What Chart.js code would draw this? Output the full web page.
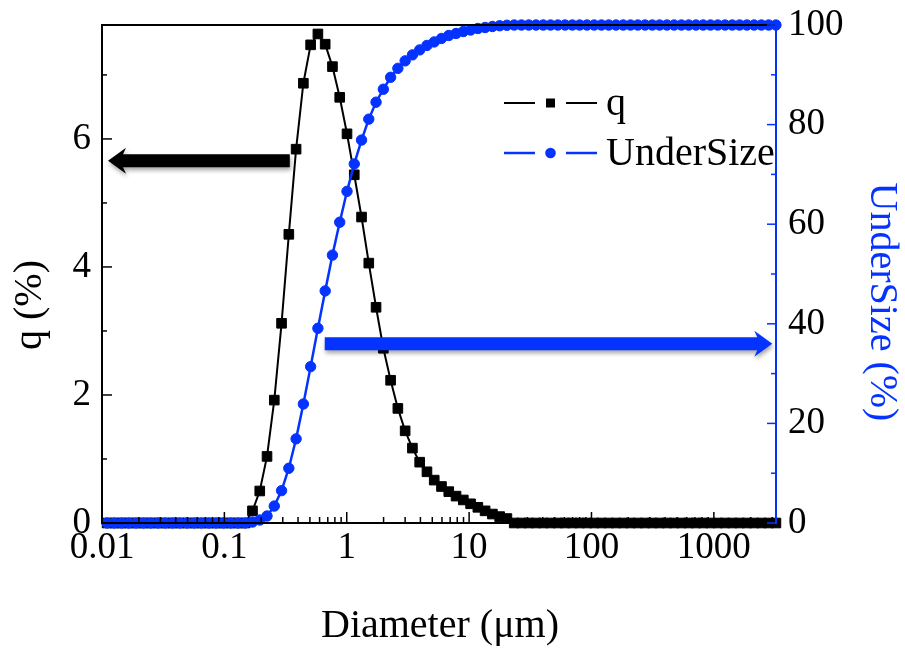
<!DOCTYPE html>
<html>
<head>
<meta charset="utf-8">
<title>q / UnderSize vs Diameter</title>
<script src="https://cdn.jsdelivr.net/npm/chart.js@4.4.1/dist/chart.umd.min.js"></script>
<style>
  html, body { margin: 0; padding: 0; background: #fff; }
  #wrap { width: 905px; height: 648px; }
</style>
</head>
<body>
<div id="wrap"><canvas id="psdChart" width="905" height="648"></canvas></div>
<script>
"use strict";

/* ================================
   DATA
   ================================ */
// particle size classes (um)
const diameters = [
  0.011, 0.01261, 0.01446, 0.01658, 0.01901, 0.0218, 0.025, 0.02866, 0.03286, 0.03768,
  0.04321, 0.04954, 0.0568, 0.06513, 0.07468, 0.08563, 0.09818, 0.1126, 0.1291, 0.148,
  0.1697, 0.1946, 0.2231, 0.2558, 0.2933, 0.3363, 0.3856, 0.4421, 0.5069, 0.5812,
  0.6665, 0.7642, 0.8762, 1.005, 1.152, 1.321, 1.514, 1.736, 1.991, 2.283,
  2.617, 3.001, 3.441, 3.945, 4.524, 5.187, 5.947, 6.819, 7.819, 8.965,
  10.28, 11.79, 13.51, 15.5, 17.77, 20.37, 23.36, 26.78, 30.71, 35.21,
  40.37, 46.29, 53.08, 60.86, 69.78, 80.01, 91.74, 105.2, 120.6, 138.3,
  158.6, 181.8, 208.5, 239.0, 274.1, 314.2, 360.3, 413.1, 473.7, 543.1,
  622.7, 714.0, 818.7, 938.7, 1076, 1234, 1415, 1622, 1860, 2133,
  2445, 2804, 3215
];

// q (%) — frequency
const qValues = [
  0, 0, 0, 0, 0, 0, 0, 0, 0, 0,
  0, 0, 0, 0, 0, 0, 0, 0, 0, 0,
  0.19, 0.50, 1.04, 1.92, 3.12, 4.51, 5.84, 6.87, 7.47, 7.64,
  7.48, 7.13, 6.65, 6.08, 5.44, 4.78, 4.06, 3.37, 2.73, 2.23,
  1.79, 1.44, 1.17, 0.95, 0.80, 0.67, 0.57, 0.49, 0.42, 0.36,
  0.30, 0.245, 0.19, 0.14, 0.10, 0.07, 0, 0, 0, 0,
  0, 0, 0, 0, 0, 0, 0, 0, 0, 0,
  0, 0, 0, 0, 0, 0, 0, 0, 0, 0,
  0, 0, 0, 0, 0, 0, 0, 0, 0, 0,
  0, 0, 0
];

// UnderSize (%) — cumulative
const underSize = [
  0, 0, 0, 0, 0, 0, 0, 0, 0, 0,
  0, 0, 0, 0, 0, 0, 0, 0, 0, 0,
  0.2, 0.6, 1.4, 3.4, 6.5, 11.0, 16.9, 23.9, 31.4, 39.1,
  46.6, 53.8, 60.4, 66.6, 72.1, 76.9, 81.1, 84.5, 87.1, 89.5,
  91.3, 92.8, 94.0, 95.0, 95.9, 96.6, 97.3, 97.9, 98.3, 98.7,
  99.0, 99.3, 99.5, 99.7, 99.85, 99.95, 100, 100, 100, 100,
  100, 100, 100, 100, 100, 100, 100, 100, 100, 100,
  100, 100, 100, 100, 100, 100, 100, 100, 100, 100,
  100, 100, 100, 100, 100, 100, 100, 100, 100, 100,
  100, 100, 100
];

const xTickValues = [0.01, 0.1, 1, 10, 100, 1000];
const xTickLabels = ["0.01", "0.1", "1", "10", "100", "1000"];
const qTickValues = [0, 2, 4, 6];
const qMinorTicks = [1, 3, 5, 7];
const usTickValues = [0, 20, 40, 60, 80, 100];
const usMinorTicks = [10, 30, 50, 70, 90];

// annotation arrows, in data units: [diameter, value]
const arrowQ = { from: [0.3425, 5.66], to: [0.0112, 5.66] };
const arrowUS = { from: [0.661, 36.0], to: [3003, 36.0] };

/* ================================
   STYLE
   ================================ */
const BLUE = "#0433ff";
const SERIF = "'Liberation Serif', 'Times New Roman', serif";
const X_MIN = 0.01;
const X_MAX = 3220;
const Q_MAX = 7.78;

/* ================================
   HELPERS
   ================================ */
function setTicks(values) {
  return scale => { scale.ticks = values.map(v => ({ value: v })); };
}

// fixed box size, no extra padding for overflowing labels
function fixWidth(w) {
  return s => { s.width = w; s.paddingTop = 0; s.paddingBottom = 0; };
}

function line(ctx, x1, y1, x2, y2) {
  ctx.beginPath();
  ctx.moveTo(x1, y1);
  ctx.lineTo(x2, y2);
  ctx.stroke();
}

function drawArrow(ctx, x1, x2, y, color) {
  const dir = Math.sign(x2 - x1);
  const half = 6.5;      // shaft half thickness
  const headHalf = 13;   // head half height
  const headLen = 15;
  const base = x2 - dir * headLen;
  ctx.save();
  ctx.shadowColor = "rgba(0,0,0,0.35)";
  ctx.shadowBlur = 4;
  ctx.shadowOffsetX = 1;
  ctx.shadowOffsetY = 3;
  ctx.fillStyle = color;
  ctx.beginPath();
  ctx.moveTo(x1, y - half);
  ctx.lineTo(base, y - half);
  ctx.lineTo(base - dir * 3, y - headHalf);
  ctx.lineTo(x2, y);
  ctx.lineTo(base - dir * 3, y + headHalf);
  ctx.lineTo(base, y + half);
  ctx.lineTo(x1, y + half);
  ctx.closePath();
  ctx.fill();
  ctx.restore();
}

/* ================================
   PLUGIN: frame, inward ticks, arrows, legend, titles
   ================================ */
const decorPlugin = {
  id: "decor",
  afterDatasetsDraw(chart) {
    const { ctx, scales } = chart;
    const x = scales.x, yQ = scales.yQ, yUS = scales.yUS;
    drawArrow(ctx, x.getPixelForValue(arrowQ.from[0]), x.getPixelForValue(arrowQ.to[0]),
      yQ.getPixelForValue(arrowQ.from[1]), "#000");
    drawArrow(ctx, x.getPixelForValue(arrowUS.from[0]), x.getPixelForValue(arrowUS.to[0]),
      yUS.getPixelForValue(arrowUS.from[1]), BLUE);
  },
  afterDraw(chart) {
    const { ctx, chartArea: a, scales } = chart;
    const x = scales.x, yQ = scales.yQ, yUS = scales.yUS;
    ctx.save();
    ctx.lineCap = "butt";

    // frame
    ctx.lineWidth = 2;
    ctx.strokeStyle = "#000";
    line(ctx, a.left, a.top, a.right, a.top);
    line(ctx, a.left, a.top - 1, a.left, a.bottom + 1);
    line(ctx, a.left - 1, a.bottom, a.right, a.bottom);
    ctx.strokeStyle = BLUE;
    line(ctx, a.right, a.top - 1, a.right, a.bottom + 1);

    // x ticks (inward)
    ctx.strokeStyle = "#000";
    ctx.lineWidth = 1.5;
    xTickValues.forEach(v => {
      const px = x.getPixelForValue(v);
      line(ctx, px, a.bottom, px, a.bottom - 11);
      for (let m = 2; m <= 9; m++) {
        const mv = v * m;
        if (mv > X_MAX) break;
        const mx = x.getPixelForValue(mv);
        line(ctx, mx, a.bottom, mx, a.bottom - 6);
      }
    });

    // left ticks
    qTickValues.forEach(v => {
      const py = yQ.getPixelForValue(v);
      line(ctx, a.left, py, a.left + 10, py);
    });
    qMinorTicks.forEach(v => {
      const py = yQ.getPixelForValue(v);
      line(ctx, a.left, py, a.left + 5, py);
    });

    // right ticks
    ctx.strokeStyle = BLUE;
    usTickValues.forEach(v => {
      const py = yUS.getPixelForValue(v);
      line(ctx, a.right, py, a.right - 9, py);
    });
    usMinorTicks.forEach(v => {
      const py = yUS.getPixelForValue(v);
      line(ctx, a.right, py, a.right - 5, py);
    });

    // legend
    const rows = [
      { label: "q", color: "#000", style: "rect", y: 103 },
      { label: "UnderSize", color: BLUE, style: "circle", y: 153 }
    ];
    ctx.font = "40px " + SERIF;
    ctx.textAlign = "left";
    ctx.textBaseline = "alphabetic";
    rows.forEach(r => {
      ctx.strokeStyle = r.color;
      ctx.fillStyle = r.color;
      ctx.lineWidth = r.style === "rect" ? 2 : 2.5;
      line(ctx, 504, r.y, 535, r.y);
      line(ctx, 566, r.y, 597, r.y);
      if (r.style === "rect") {
        ctx.fillRect(546, r.y - 4.5, 9, 9);
      } else {
        ctx.beginPath();
        ctx.arc(550.5, r.y, 5.3, 0, Math.PI * 2);
        ctx.fill();
      }
      ctx.fillStyle = "#000";
      ctx.fillText(r.label, 606, r.y + 12);
    });

    // axis titles
    ctx.textAlign = "center";
    ctx.textBaseline = "middle";
    ctx.fillStyle = "#000";
    ctx.fillText("Diameter (\u03bcm)", 440, 626);

    ctx.save();
    ctx.translate(30, 305);
    ctx.rotate(-Math.PI / 2);
    ctx.fillText("q (%)", 0, 0);
    ctx.restore();

    ctx.save();
    ctx.translate(881, 302);
    ctx.rotate(Math.PI / 2);
    ctx.fillStyle = BLUE;
    ctx.fillText("UnderSize (%)", 0, 0);
    ctx.restore();

    ctx.restore();
  }
};

/* ================================
   CHART
   ================================ */
function initChart() {
  const tickFont = { family: SERIF, size: 37 };

  new Chart(document.getElementById("psdChart").getContext("2d"), {
    type: "line",
    data: {
      datasets: [
        {
          label: "q",
          data: diameters.map((d, i) => ({ x: d, y: qValues[i] })),
          yAxisID: "yQ",
          borderColor: "#000",
          backgroundColor: "#000",
          borderWidth: 2,
          pointStyle: "rect",
          pointRadius: 6.8,
          pointBorderWidth: 1,
          tension: 0,
          order: 1
        },
        {
          label: "UnderSize",
          data: diameters.map((d, i) => ({ x: d, y: underSize[i] })),
          yAxisID: "yUS",
          borderColor: BLUE,
          backgroundColor: BLUE,
          borderWidth: 2.5,
          pointStyle: "circle",
          pointRadius: 5.2,
          pointBorderWidth: 1,
          tension: 0,
          order: 0
        }
      ]
    },
    options: {
      responsive: false,
      animation: false,
      events: [],
      clip: false,
      layout: { padding: { top: 25, left: 0, right: 0, bottom: 0 } },
      plugins: { legend: { display: false }, tooltip: { enabled: false }, title: { display: false } },
      scales: {
        x: {
          type: "logarithmic",
          position: "bottom",
          min: X_MIN,
          max: X_MAX,
          afterBuildTicks: setTicks(xTickValues),
          afterFit: s => { s.height = 125; s.paddingLeft = 0; s.paddingRight = 0; },
          grid: { display: false, drawTicks: false },
          border: { display: false },
          ticks: {
            font: tickFont,
            color: "#000",
            padding: 3,
            maxRotation: 0,
            autoSkip: false,
            callback: v => xTickLabels[xTickValues.indexOf(v)] ?? ""
          }
        },
        yQ: {
          type: "linear",
          position: "left",
          min: 0,
          max: Q_MAX,
          afterBuildTicks: setTicks(qTickValues),
          afterFit: fixWidth(102),
          grid: { display: false, drawTicks: false },
          border: { display: false },
          ticks: { font: tickFont, color: "#000", padding: 11 }
        },
        yUS: {
          type: "linear",
          position: "right",
          min: 0,
          max: 100,
          afterBuildTicks: setTicks(usTickValues),
          afterFit: fixWidth(129),
          grid: { display: false, drawTicks: false },
          border: { display: false },
          ticks: { font: tickFont, color: "#000", padding: 12 }
        }
      }
    },
    plugins: [decorPlugin]
  });
}

document.addEventListener("DOMContentLoaded", initChart);
</script>
</body>
</html>
